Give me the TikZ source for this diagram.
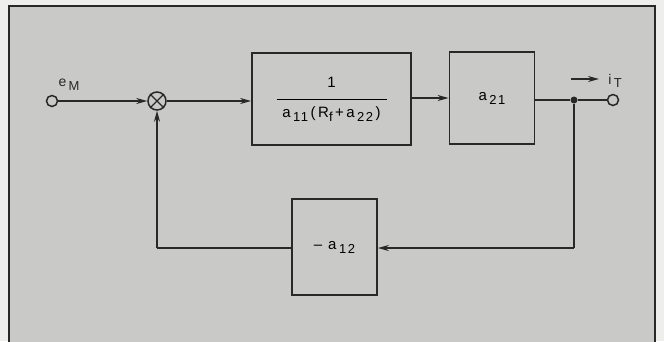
\documentclass[tikz,border=0pt]{standalone}
\usepackage{fontspec}
\setmainfont[LetterSpace=12]{Liberation Sans}
\usepackage{xcolor}
\definecolor{panelgray}{RGB}{201,201,199}
\definecolor{inkgray}{RGB}{40,40,40}
\definecolor{papergray}{RGB}{238,238,236}
\usetikzlibrary{arrows.meta,positioning,calc}
\newcommand{\low}[1]{\raisebox{-0.5ex}{\fontsize{13}{15}\selectfont #1}}

\begin{document}
\begin{tikzpicture}[x=1pt, y=-1pt,
  block/.style={rectangle, draw=inkgray, line width=1.8pt, inner sep=0pt,
                font=\fontsize{15}{17}\selectfont, align=center},
  term/.style={circle, draw=inkgray, line width=1.5pt, minimum size=11pt, inner sep=0pt},
  sig/.style={line width=1.5pt, color=inkgray},
  arr/.style={sig, -{Stealth[length=11pt,width=6pt]}},
  lbl/.style={font=\fontsize{14}{16}\selectfont, text=inkgray, inner sep=1pt}
]
  % panel
  \useasboundingbox (0,0) rectangle (664,341);
  \clip (0,0) rectangle (664,341);
  \fill[papergray] (0,0) rectangle (664,341);
  \draw[fill=panelgray, draw=inkgray, line width=1.6pt] (9,6) rectangle (655,360);

  % forward path
  \node[term] (in) at (52,101) {};
  \node[circle, draw=inkgray, line width=1.5pt, minimum size=18pt, inner sep=0pt] (sum) at (157,101) {};
  \draw[sig, line width=1.2pt] (sum.north west) -- (sum.south east) (sum.north east) -- (sum.south west);
  \node[block, minimum width=159pt, minimum height=92pt] (plant) at (331.5,99)
    {1\\[-4pt]\rule{110pt}{1.5pt}\\[0pt]a\,\low{11}\,(\,R\low{f}\,+\,a\,\low{22}\,)};
  \node[block, minimum width=85pt, minimum height=92pt] (gain) at (492,98) {a\,\low{21}};
  \node[circle, fill=inkgray, minimum size=7pt, inner sep=0pt] (tap) at (574,100) {};
  \node[term] (out) at (613,100) {};

  % feedback path
  \node[block, minimum width=85pt, minimum height=96pt] (fb) at (334.5,247) {-- a\,\low{12}};
  \coordinate (tapdown) at (574,248);
  \coordinate (sumdown) at (157,248);

  \draw[arr] (in) -- (sum);
  \draw[arr] (sum) -- (plant.west |- sum);
  \draw[arr] (plant.east |- gain) -- (gain);
  \draw[sig] (gain.east |- tap) -- (tap) -- (out);
  \draw[sig] (tap) -- (tapdown);
  \draw[arr] (tapdown) -- (fb.east |- tapdown);
  \draw[sig] (fb.west |- sumdown) -- (sumdown);
  \draw[arr] (sumdown) -- (sum);

  % labels
  \node[lbl] (em) at (69,85) {e\,\low{M}};
  \coordinate (cur0) at (571,79);
  \coordinate (cur1) at (599,79);
  \draw[arr] (cur0) -- (cur1);
  \node[lbl] (it) at (615,81) {i\,\low{T}};
\end{tikzpicture}
\end{document}
